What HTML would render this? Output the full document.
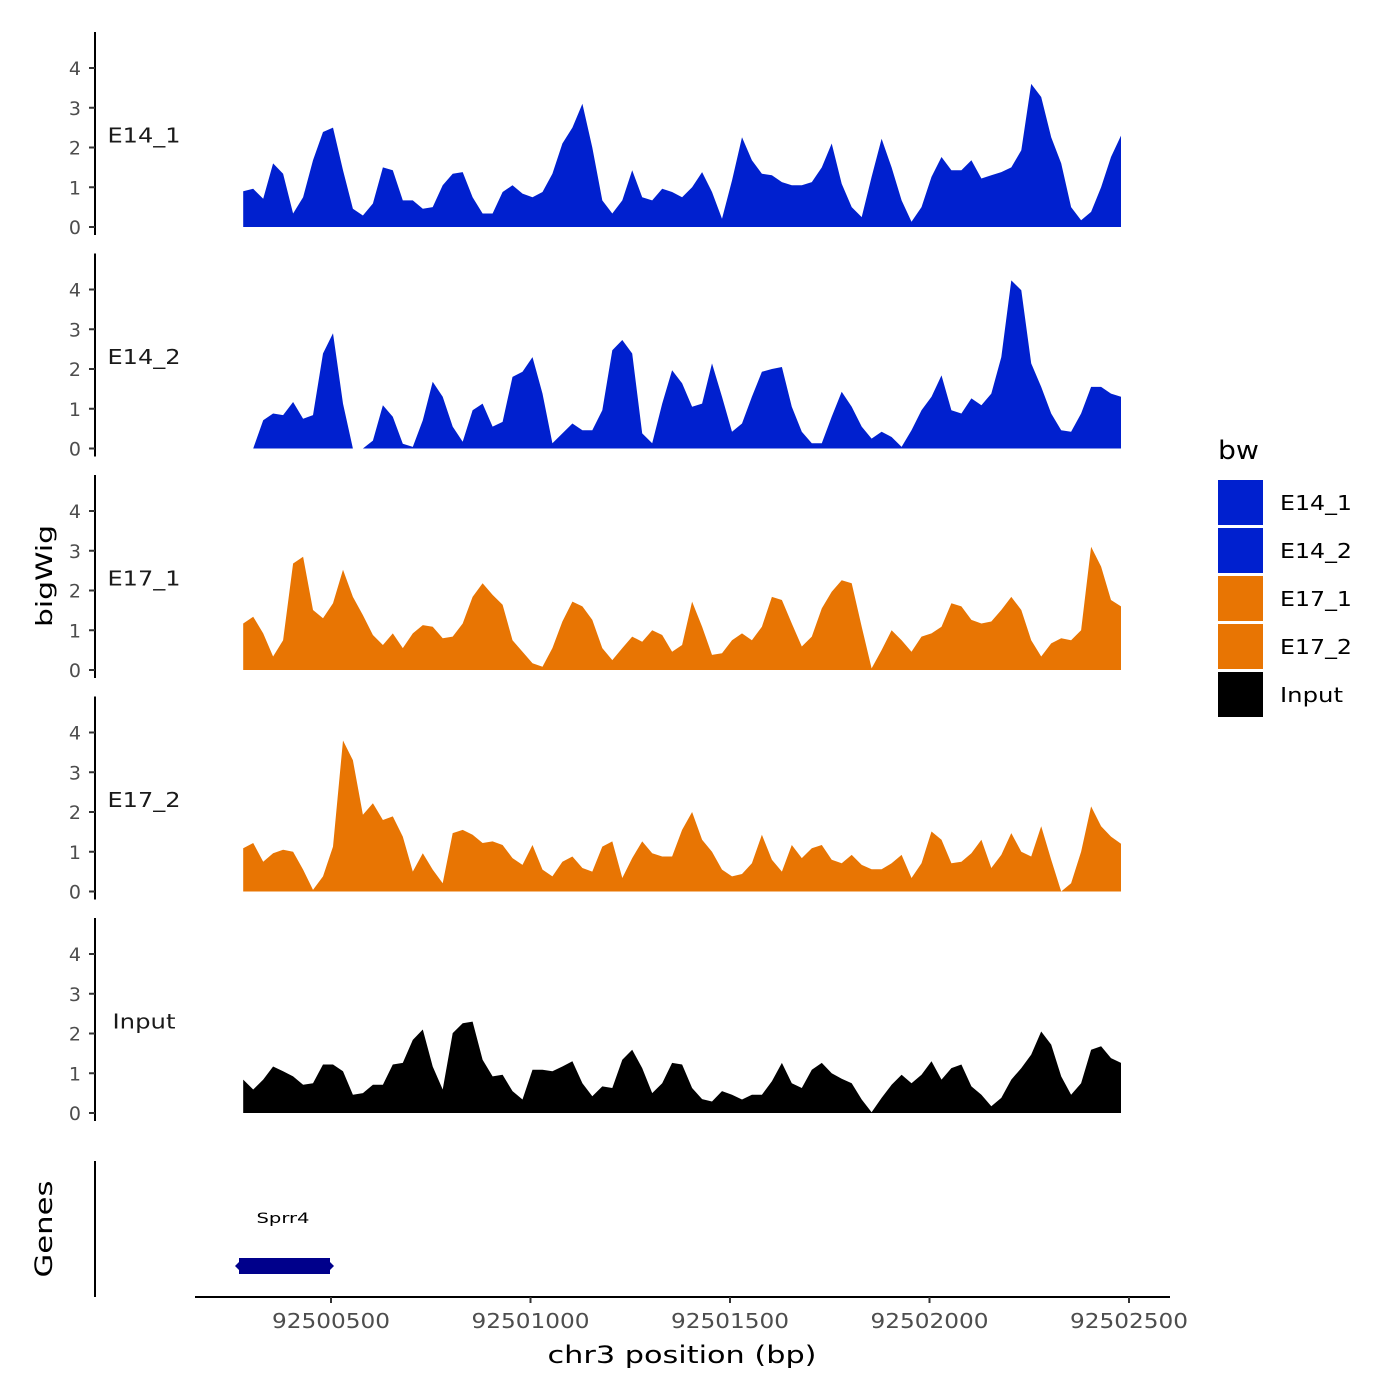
<!DOCTYPE html>
<html><head><meta charset="utf-8"><style>
html,body{margin:0;padding:0;background:#fff;}
svg{display:block;font-family:"DejaVu Sans","Liberation Sans",sans-serif;}
</style></head><body>
<svg id="chart" width="1400" height="1400" viewBox="0 0 1400 1400">
<g id="panels"></g>
<text x="52" y="576" transform="rotate(-90 52 576)" text-anchor="middle" font-size="22" textLength="102" lengthAdjust="spacingAndGlyphs" fill="#000">bigWig</text>
<text x="52" y="1229" transform="rotate(-90 52 1229)" text-anchor="middle" font-size="24" textLength="97" lengthAdjust="spacingAndGlyphs" fill="#000">Genes</text>
<line x1="95" y1="1161" x2="95" y2="1297" stroke="#000" stroke-width="2"/>
<text x="283" y="1223" text-anchor="middle" font-size="14" textLength="53" lengthAdjust="spacingAndGlyphs" fill="#000">Sprr4</text>
<rect x="239" y="1258" width="91" height="16" fill="#00008B"/>
<path d="M239,1262 L235,1266 L239,1270 Z M330,1262 L334,1266 L330,1270 Z" fill="#00008B"/>
<line x1="195" y1="1297" x2="1170" y2="1297" stroke="#000" stroke-width="2"/>
<g id="xticks"></g>
<text x="682" y="1363" text-anchor="middle" font-size="24" textLength="269" lengthAdjust="spacingAndGlyphs" fill="#000">chr3 position (bp)</text>
<g>
<text x="1218" y="459" font-size="26" textLength="41" lengthAdjust="spacingAndGlyphs" fill="#000">bw</text>
<g id="legend"></g>
</g>
</svg>
<script>
const trackNames = ["E14_1","E14_2","E17_1","E17_2","Input"];
const trackColors = ["#0020CF","#0020CF","#E87503","#E87503","#000000"];
const startBp = 92500280;
const stepBp = 25;
const e14_1 = [0.9,0.96,0.71,1.6,1.34,0.34,0.75,1.68,2.39,2.5,1.43,0.46,0.29,0.59,1.5,1.43,0.67,0.67,0.46,0.5,1.05,1.34,1.38,0.75,0.34,0.34,0.88,1.05,0.84,0.75,0.88,1.34,2.1,2.5,3.1,2.0,0.67,0.34,0.67,1.43,0.75,0.67,0.96,0.88,0.75,1.0,1.38,0.88,0.21,1.17,2.26,1.68,1.34,1.3,1.13,1.05,1.05,1.13,1.5,2.1,1.09,0.5,0.25,1.26,2.22,1.5,0.67,0.13,0.5,1.26,1.76,1.43,1.43,1.68,1.22,1.3,1.38,1.5,1.93,3.6,3.27,2.26,1.6,0.5,0.17,0.38,1.0,1.76,2.3];
const e14_2 = [0,0,0.71,0.88,0.84,1.17,0.75,0.84,2.39,2.9,1.13,0,0,0.2,1.09,0.8,0.12,0.04,0.71,1.68,1.3,0.55,0.17,0.96,1.13,0.55,0.67,1.8,1.93,2.3,1.38,0.13,0.38,0.63,0.46,0.46,0.96,2.47,2.73,2.39,0.38,0.13,1.13,1.97,1.64,1.05,1.13,2.14,1.3,0.42,0.63,1.3,1.93,2.0,2.05,1.05,0.42,0.13,0.13,0.8,1.43,1.05,0.55,0.25,0.42,0.29,0.04,0.46,0.96,1.3,1.84,0.96,0.88,1.26,1.09,1.38,2.3,4.23,3.98,2.14,1.55,0.88,0.46,0.42,0.88,1.55,1.55,1.38,1.3];
const e17_1 = [1.17,1.34,0.92,0.34,0.75,2.68,2.85,1.51,1.3,1.68,2.52,1.84,1.38,0.88,0.63,0.92,0.55,0.92,1.13,1.09,0.8,0.84,1.17,1.84,2.18,1.89,1.64,0.75,0.46,0.17,0.08,0.55,1.22,1.72,1.6,1.26,0.55,0.25,0.55,0.84,0.71,1.0,0.88,0.46,0.63,1.72,1.09,0.38,0.42,0.75,0.92,0.75,1.09,1.84,1.76,1.17,0.59,0.84,1.55,1.97,2.26,2.18,1.09,0.04,0.5,1.0,0.75,0.46,0.84,0.92,1.09,1.68,1.6,1.26,1.17,1.22,1.51,1.84,1.51,0.75,0.34,0.67,0.8,0.75,1.0,3.1,2.6,1.76,1.6];
const e17_2 = [1.09,1.22,0.75,0.96,1.05,1.0,0.55,0.04,0.38,1.13,3.8,3.3,1.93,2.22,1.8,1.89,1.38,0.5,0.96,0.55,0.21,1.47,1.55,1.43,1.22,1.26,1.17,0.84,0.67,1.17,0.55,0.38,0.75,0.88,0.59,0.5,1.13,1.26,0.34,0.84,1.26,0.96,0.88,0.88,1.55,2.0,1.3,1.0,0.55,0.38,0.44,0.71,1.43,0.8,0.5,1.17,0.84,1.09,1.17,0.8,0.71,0.92,0.67,0.56,0.56,0.71,0.92,0.34,0.71,1.51,1.3,0.71,0.75,0.96,1.3,0.59,0.92,1.47,1.0,0.88,1.64,0.8,0,0.21,1.0,2.14,1.64,1.38,1.2];
const input = [0.84,0.59,0.84,1.17,1.05,0.92,0.71,0.75,1.22,1.22,1.05,0.46,0.5,0.71,0.71,1.22,1.26,1.84,2.1,1.17,0.59,2.01,2.26,2.3,1.34,0.92,0.96,0.55,0.34,1.09,1.09,1.05,1.17,1.3,0.75,0.42,0.67,0.63,1.34,1.59,1.13,0.5,0.75,1.26,1.22,0.63,0.35,0.29,0.55,0.46,0.34,0.46,0.46,0.8,1.26,0.75,0.63,1.09,1.26,1.0,0.86,0.75,0.34,0.02,0.38,0.71,0.96,0.75,0.96,1.3,0.84,1.13,1.22,0.67,0.46,0.17,0.38,0.84,1.13,1.47,2.05,1.72,0.92,0.46,0.75,1.59,1.68,1.38,1.26];
const yTicks = [0,1,2,3,4];
const xTicks = [92500500,92501000,92501500,92502000,92502500];
const seriesList = [e14_1,e14_2,e17_1,e17_2,input];

const NS = "http://www.w3.org/2000/svg";
function xs(bp){ return 331 + (bp - 92500500) * 0.399; }
const baseY0 = 227, panelGap = 221.5, unitPx = 39.75;
function ys(panel, v){ return baseY0 + panel*panelGap - v*unitPx; }
function mk(tag, attrs, parent){ const e=document.createElementNS(NS,tag); for(const k in attrs) e.setAttribute(k, attrs[k]); parent.appendChild(e); return e; }

const panels = document.getElementById("panels");
seriesList.forEach((vals, p) => {
  const g = mk("g", {}, panels);
  
  
  const top = ys(p, 4) - 36, bot = ys(p, 0) + 8;
  const ax = mk("line", {x1:95, y1:top, x2:95, y2:bot, stroke:"#000", "stroke-width":2}, g);
  
  
  yTicks.forEach(t => {
    const y = ys(p, t);
    const tl = mk("line", {x1:89, y1:y, x2:95, y2:y, stroke:"#333", "stroke-width":2}, g);
    
    
    const tx = mk("text", {x:81, y:y+7, "text-anchor":"end", "font-size":19, fill:"#4d4d4d"}, g);
    tx.textContent = t;
    
    
  });
  const lab = mk("text", {x:144, y:ys(p,2.3)+7, "text-anchor":"middle", "font-size":20, fill:"#1a1a1a"}, g);
  lab.textContent = trackNames[p];
  lab.setAttribute("textLength", p < 4 ? "73" : "63");
  lab.setAttribute("lengthAdjust", "spacingAndGlyphs");
  
  
  let d = "M" + xs(startBp).toFixed(1) + "," + ys(p,0).toFixed(1);
  vals.forEach((v,i) => { d += " L" + xs(startBp + i*stepBp).toFixed(1) + "," + ys(p,v).toFixed(1); });
  d += " L" + xs(startBp + (vals.length-1)*stepBp).toFixed(1) + "," + ys(p,0).toFixed(1) + " Z";
  const area = mk("path", {d:d, fill:trackColors[p]}, g);
  
  
});

const xt = document.getElementById("xticks");
xTicks.forEach(t => {
  const x = xs(t);
  const l = mk("line", {x1:x, y1:1297, x2:x, y2:1303, stroke:"#333", "stroke-width":2}, xt);
  
  
  const tx = mk("text", {x:x, y:1328, "text-anchor":"middle", "font-size":20, textLength:118, lengthAdjust:"spacingAndGlyphs", fill:"#4d4d4d"}, xt);
  tx.textContent = t;
  
  
});

const lg = document.getElementById("legend");
trackNames.forEach((n,i) => {
  const y = 480 + i*48;
  const r = mk("rect", {x:1218, y:y, width:45, height:45, fill:trackColors[i]}, lg);
  
  
  const t = mk("text", {x:1280, y:y+30, "font-size":20, fill:"#000"}, lg);
  t.textContent = n;
  t.setAttribute("textLength", i < 4 ? "72" : "63");
  t.setAttribute("lengthAdjust", "spacingAndGlyphs");
  
  
});
</script>
</body></html>
